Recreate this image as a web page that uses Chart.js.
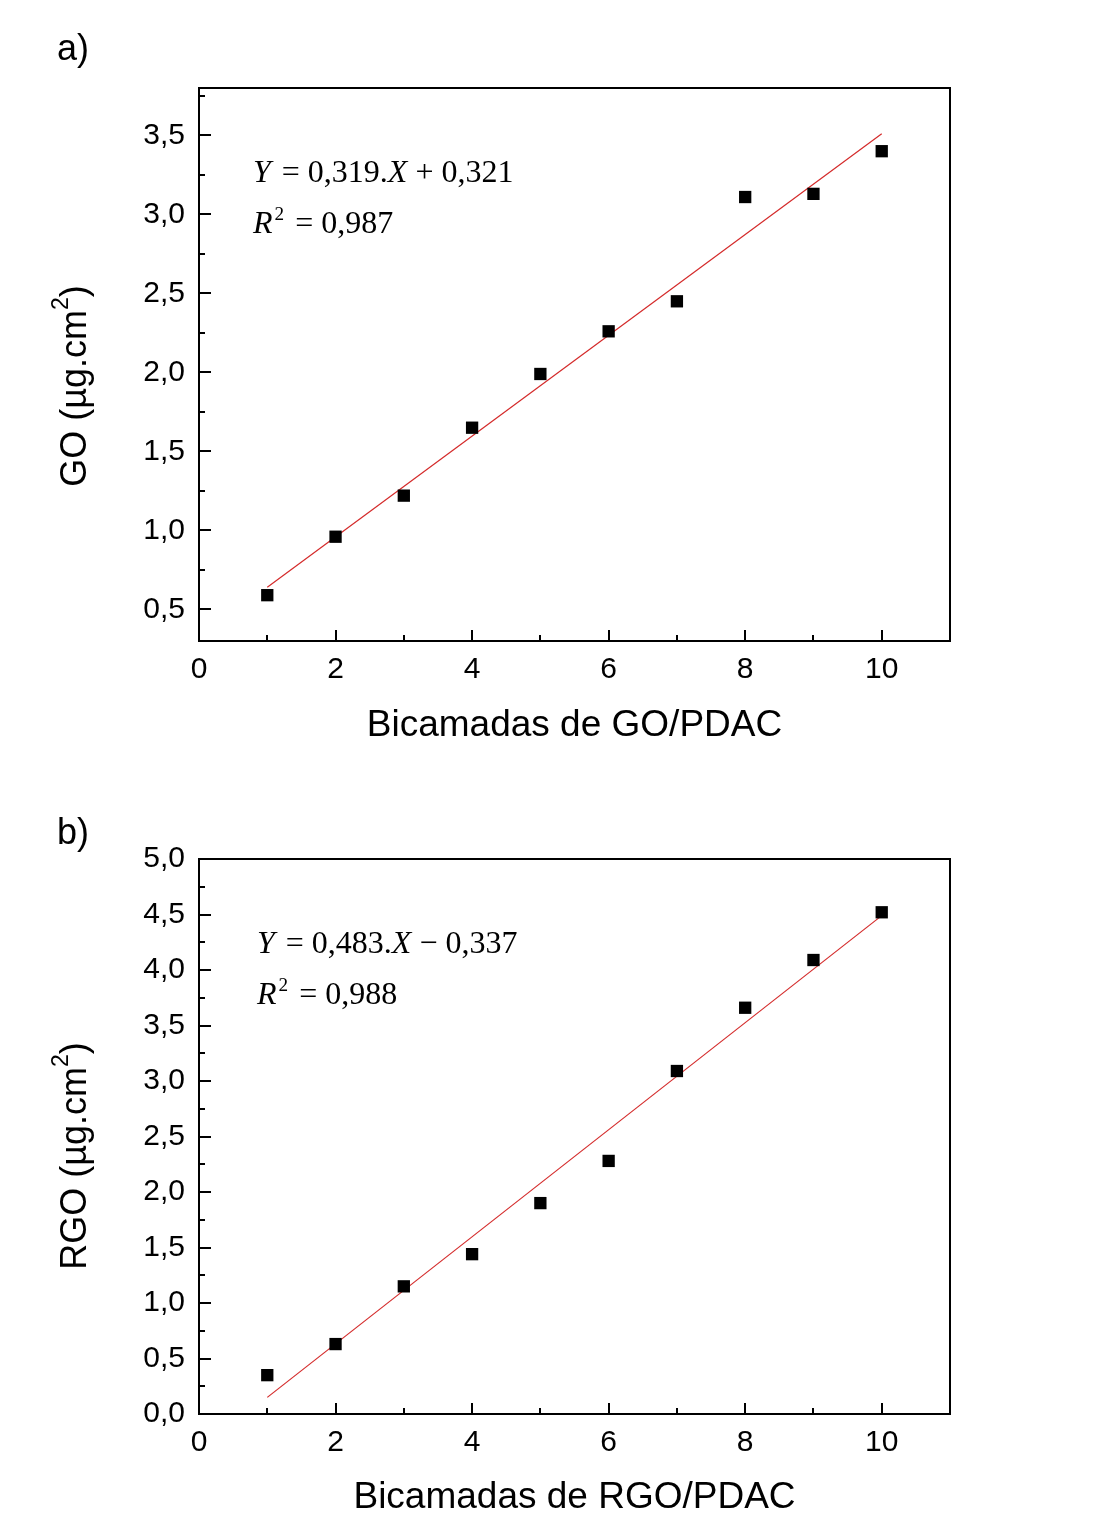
<!DOCTYPE html>
<html>
<head>
<meta charset="utf-8">
<script src="https://cdn.jsdelivr.net/npm/chart.js@4.4.0/dist/chart.umd.min.js"></script>
<style>
  body { margin: 0; background: #fff; }
  .box { position: absolute; left: 0; width: 1094px; height: 768px; }
</style>
</head>
<body>
<div class="box" style="top:0"><canvas id="chartA"></canvas></div>
<div class="box" style="top:768px"><canvas id="chartB"></canvas></div>
<script>
// ---- data ----
const bicamadas = [1, 2, 3, 4, 5, 6, 7, 8, 9, 10];
const goValues = [0.59, 0.96, 1.22, 1.65, 1.99, 2.26, 2.45, 3.11, 3.13, 3.40];
const rgoValues = [0.35, 0.63, 1.15, 1.44, 1.90, 2.28, 3.09, 3.66, 4.09, 4.52];

const fitX = [1, 10];
const goFitY = [0.64, 3.51];
const rgoFitY = [0.15, 4.49];

const xTicks = [0, 2, 4, 6, 8, 10];
const xMinor = [1, 3, 5, 7, 9];
const yTicksA = [0.5, 1.0, 1.5, 2.0, 2.5, 3.0, 3.5];
const yMinorA = [0.75, 1.25, 1.75, 2.25, 2.75, 3.25, 3.75];
const yTicksB = [0.0, 0.5, 1.0, 1.5, 2.0, 2.5, 3.0, 3.5, 4.0, 4.5, 5.0];
const yMinorB = [0.25, 0.75, 1.25, 1.75, 2.25, 2.75, 3.25, 3.75, 4.25, 4.75];

const SANS = '"Liberation Sans", Arial, sans-serif';
const SERIF = '"Liberation Serif", "Times New Roman", serif';

function fmt(v) {
  return v.toFixed(1).replace('.', ',');
}

// draw a list of text runs, some italic; {g: n} adds an extra gap
function drawRuns(ctx, runs, x, y, size) {
  runs.forEach(r => {
    if (r.g) { x += r.g; return; }
    let s = r.sup ? size * 0.6 : size;
    ctx.font = (r.it ? 'italic ' : '') + s + 'px ' + SERIF;
    ctx.fillText(r.t, x, r.sup ? y - size * 0.4 : y);
    x += ctx.measureText(r.t).width;
  });
}

// per-canvas decoration settings, kept outside the chart options
const decor = {};

// frame, inward ticks, titles and equation
const decorPlugin = {
  id: 'decor',
  afterDraw(chart) {
    const o = decor[chart.canvas.id];
    const ctx = chart.ctx;
    const a = chart.chartArea;
    const xs = chart.scales.x, ys = chart.scales.y;
    ctx.save();
    ctx.strokeStyle = '#000';
    ctx.lineWidth = 2;
    ctx.strokeRect(a.left, a.top, a.right - a.left, a.bottom - a.top);

    ctx.beginPath();
    xTicks.forEach(v => {
      const px = Math.round(xs.getPixelForValue(v));
      ctx.moveTo(px, a.bottom); ctx.lineTo(px, a.bottom - 11);
    });
    xMinor.forEach(v => {
      const px = Math.round(xs.getPixelForValue(v));
      ctx.moveTo(px, a.bottom); ctx.lineTo(px, a.bottom - 6);
    });
    o.yMajor.forEach(v => {
      const py = Math.round(ys.getPixelForValue(v));
      ctx.moveTo(a.left, py); ctx.lineTo(a.left + 12, py);
    });
    o.yMinor.forEach(v => {
      const py = Math.round(ys.getPixelForValue(v));
      ctx.moveTo(a.left, py); ctx.lineTo(a.left + 6, py);
    });
    ctx.stroke();

    ctx.fillStyle = '#000';
    // panel letter
    ctx.font = '36px ' + SANS;
    ctx.textBaseline = 'middle';
    ctx.textAlign = 'left';
    ctx.fillText(o.letter, 57, o.letterY);

    // x title
    ctx.font = '37px ' + SANS;
    ctx.textAlign = 'center';
    ctx.fillText(o.xTitle, (a.left + a.right) / 2, o.xTitleY);

    // y title, rotated, with superscript
    ctx.save();
    ctx.translate(76, o.yTitleY);
    ctx.rotate(-Math.PI / 2);
    ctx.textAlign = 'left';
    ctx.font = '36px ' + SANS;
    const p1 = o.yTitle + ' (\u00b5g.cm';
    const w1 = ctx.measureText(p1).width;
    ctx.font = '23px ' + SANS;
    const w2 = ctx.measureText('2').width;
    ctx.font = '36px ' + SANS;
    const w3 = ctx.measureText(')').width;
    let sx = -(w1 + w2 + w3) / 2;
    ctx.fillText(p1, sx, 0);
    ctx.font = '23px ' + SANS;
    ctx.fillText('2', sx + w1, -14);
    ctx.font = '36px ' + SANS;
    ctx.fillText(')', sx + w1 + w2, 0);
    ctx.restore();

    // equation
    ctx.textBaseline = 'alphabetic';
    ctx.textAlign = 'left';
    drawRuns(ctx, o.eq, o.eqX, o.eqY, 32);
    drawRuns(ctx, o.r2, o.eqX, o.eqY + 51, 32);
    ctx.restore();
  }
};

function makeChart(id, values, fitY, yMin, yMax, yMajor, topPad, xHeight) {
  const ctx = document.getElementById(id).getContext('2d');
  return new Chart(ctx, {
    type: 'scatter',
    data: {
      datasets: [
        {
          data: bicamadas.map((x, i) => ({ x: x, y: values[i] })),
          pointStyle: 'rect',
          pointRadius: 8.7,
          pointHoverRadius: 8.7,
          backgroundColor: '#000',
          borderColor: '#000',
          borderWidth: 0
        },
        {
          data: fitX.map((x, i) => ({ x: x, y: fitY[i] })),
          showLine: true,
          borderColor: '#d42a2a',
          borderWidth: 1.2,
          pointRadius: 0
        }
      ]
    },
    options: {
      responsive: false,
      animation: false,
      layout: { padding: { left: 0, right: 144, top: topPad, bottom: 0 } },
      plugins: { legend: { display: false }, tooltip: { enabled: false } },
      scales: {
        x: {
          type: 'linear', min: 0, max: 11,
          grid: { display: false, drawTicks: false },
          border: { display: false },
          afterBuildTicks: s => { s.ticks = xTicks.map(v => ({ value: v })); },
          afterFit: s => { s.height = xHeight; },
          ticks: { padding: 11, color: '#000', font: { family: SANS, size: 30 }, maxRotation: 0,
                   callback: v => String(v) }
        },
        y: {
          type: 'linear', min: yMin, max: yMax,
          grid: { display: false, drawTicks: false },
          border: { display: false },
          afterBuildTicks: s => { s.ticks = yMajor.map(v => ({ value: v })); },
          afterFit: s => { s.width = 199; },
          ticks: { padding: 14, color: '#000', font: { family: SANS, size: 30 },
                   callback: v => fmt(v) }
        }
      }
    },
    plugins: [decorPlugin]
  });
}

document.getElementById('chartA').width = 1094;
document.getElementById('chartA').height = 768;
document.getElementById('chartB').width = 1094;
document.getElementById('chartB').height = 768;

decor.chartA = {
  letter: 'a)', letterY: 50,
  xTitle: 'Bicamadas de GO/PDAC', xTitleY: 726,
  yTitle: 'GO', yTitleY: 386,
  yMajor: yTicksA, yMinor: yMinorA,
  eqX: 253, eqY: 182,
  eq: [{ t: 'Y', it: true }, { g: 3 }, { t: ' = 0,319.' }, { t: 'X', it: true }, { t: ' + 0,321' }],
  r2: [{ t: 'R', it: true }, { g: 2 }, { t: '2', sup: true }, { g: 3 }, { t: ' = 0,987' }]
};

decor.chartB = {
  letter: 'b)', letterY: 66,
  xTitle: 'Bicamadas de RGO/PDAC', xTitleY: 730,
  yTitle: 'RGO', yTitleY: 388,
  yMajor: yTicksB, yMinor: yMinorB,
  eqX: 257, eqY: 953 - 768,
  eq: [{ t: 'Y', it: true }, { g: 3 }, { t: ' = 0,483.' }, { t: 'X', it: true }, { t: ' \u2212 0,337' }],
  r2: [{ t: 'R', it: true }, { g: 2 }, { t: '2', sup: true }, { g: 3 }, { t: ' = 0,988' }]
};

makeChart('chartA', goValues, goFitY, 0.3, 3.8, yTicksA, 88, 127);
makeChart('chartB', rgoValues, rgoFitY, 0, 5, yTicksB, 91, 122);
</script>
</body>
</html>
